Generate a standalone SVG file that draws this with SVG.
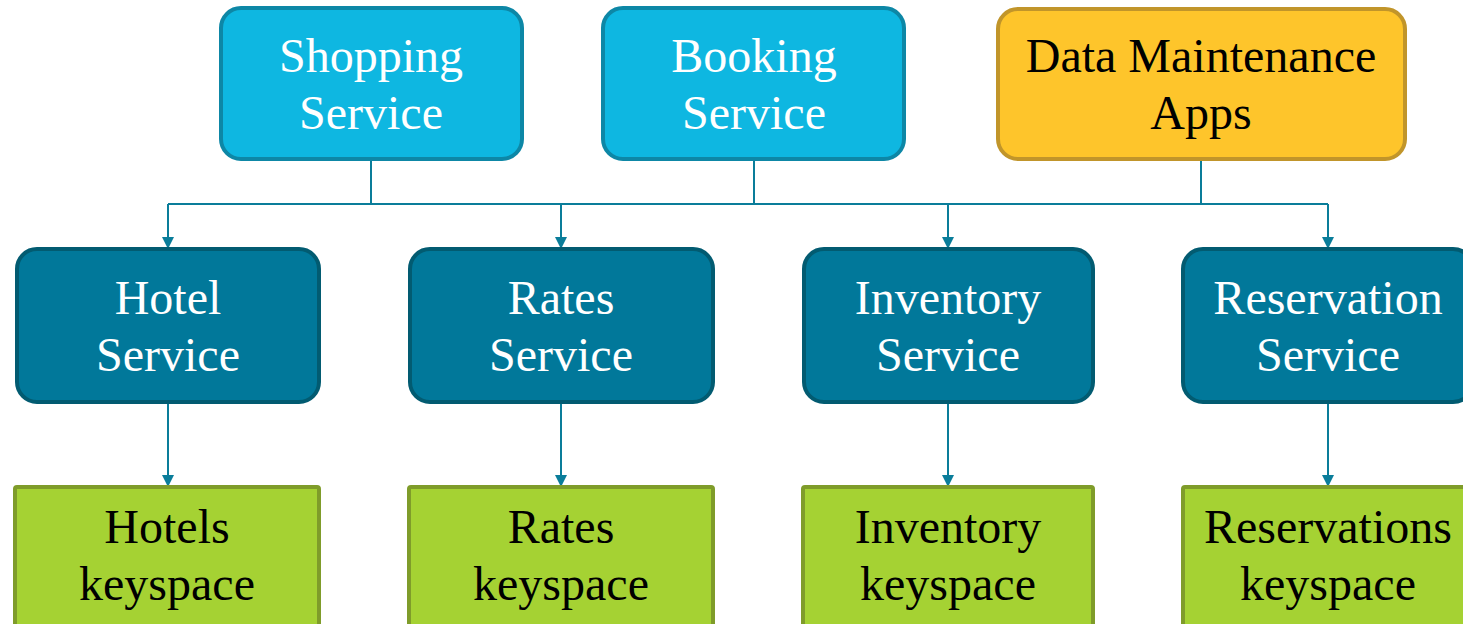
<svg xmlns="http://www.w3.org/2000/svg" width="1463" height="624" viewBox="0 0 1463 624">
<style>
.t{font-family:"Liberation Serif","Times New Roman",serif;font-size:48px;text-anchor:middle}
.top{fill:#0eb7e1;stroke:#0d87a6;stroke-width:4}
.dm{fill:#fec52b;stroke:#c1952a;stroke-width:4}
.mid{fill:#01789a;stroke:#025b71;stroke-width:4}
.ks{fill:#a5d233;stroke:#7f9c2a;stroke-width:4}
.w{fill:#ffffff}
.k{fill:#000000}
.c{fill:none;stroke:#0a7d9a;stroke-width:2}
</style>
<defs>
<marker id="ah" markerWidth="10" markerHeight="12" refX="5" refY="10" orient="auto-start-reverse" markerUnits="userSpaceOnUse" viewBox="0 0 10 12">
<path d="M0,0 L10,0 L5,12 Z" fill="#0a7d9a" transform="rotate(0)"/>
</marker>
<marker id="ad" markerWidth="12" markerHeight="12" refX="10" refY="6" orient="auto" markerUnits="userSpaceOnUse" viewBox="0 0 12 12">
<path d="M0,0 L12,6 L0,12 Z" fill="#0a7d9a"/>
</marker>
</defs>
<g id="connectors">
<path class="c" d="M371,159 V204 M754,159 V204 M1201,159 V204 M168,204 H1328"/>
<path class="c" d="M168,204 V247" marker-end="url(#ad)"/>
<path class="c" d="M561,204 V247" marker-end="url(#ad)"/>
<path class="c" d="M948,204 V247" marker-end="url(#ad)"/>
<path class="c" d="M1328,204 V247" marker-end="url(#ad)"/>
<path class="c" d="M168,402 V485" marker-end="url(#ad)"/>
<path class="c" d="M561,402 V485" marker-end="url(#ad)"/>
<path class="c" d="M948,402 V485" marker-end="url(#ad)"/>
<path class="c" d="M1328,402 V485" marker-end="url(#ad)"/>
</g>
<g id="shopping">
<rect class="top" x="221" y="8" width="301" height="151" rx="20"/>
<text class="t w" x="371" y="72">Shopping</text>
<text class="t w" x="371" y="129">Service</text>
</g>
<g id="booking">
<rect class="top" x="603" y="8" width="301" height="151" rx="20"/>
<text class="t w" x="754" y="72">Booking</text>
<text class="t w" x="754" y="129">Service</text>
</g>
<g id="datamaint">
<rect class="dm" x="998" y="9" width="407" height="150" rx="20"/>
<text class="t k" x="1201" y="72">Data Maintenance</text>
<text class="t k" x="1201" y="129">Apps</text>
</g>
<g id="hotel">
<rect class="mid" x="17" y="249" width="302" height="153" rx="20"/>
<text class="t w" x="168" y="314">Hotel</text>
<text class="t w" x="168" y="371">Service</text>
</g>
<g id="rates">
<rect class="mid" x="410" y="249" width="303" height="153" rx="20"/>
<text class="t w" x="561" y="314">Rates</text>
<text class="t w" x="561" y="371">Service</text>
</g>
<g id="inventory">
<rect class="mid" x="804" y="249" width="289" height="153" rx="20"/>
<text class="t w" x="948" y="314">Inventory</text>
<text class="t w" x="948" y="371">Service</text>
</g>
<g id="reservation">
<rect class="mid" x="1183" y="249" width="290" height="153" rx="20"/>
<text class="t w" x="1328" y="314">Reservation</text>
<text class="t w" x="1328" y="371">Service</text>
</g>
<g id="hotels-ks">
<rect class="ks" x="15" y="487" width="304" height="145" rx="2"/>
<text class="t k" x="167" y="543">Hotels</text>
<text class="t k" x="167" y="600">keyspace</text>
</g>
<g id="rates-ks">
<rect class="ks" x="409" y="487" width="304" height="145" rx="2"/>
<text class="t k" x="561" y="543">Rates</text>
<text class="t k" x="561" y="600">keyspace</text>
</g>
<g id="inventory-ks">
<rect class="ks" x="803" y="487" width="290" height="145" rx="2"/>
<text class="t k" x="948" y="543">Inventory</text>
<text class="t k" x="948" y="600">keyspace</text>
</g>
<g id="reservations-ks">
<rect class="ks" x="1183" y="487" width="290" height="145" rx="2"/>
<text class="t k" x="1328" y="543">Reservations</text>
<text class="t k" x="1328" y="600">keyspace</text>
</g>
</svg>
